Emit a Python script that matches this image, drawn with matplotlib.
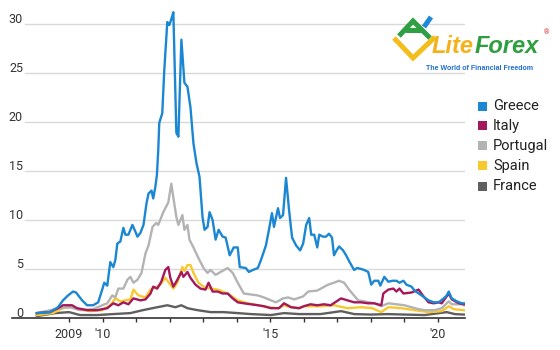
import matplotlib.pyplot as plt
from matplotlib.patches import Rectangle
from matplotlib.lines import Line2D

plt.rcParams["font.family"] = ["Roboto", "DejaVu Sans"]

# 10-year government bond spreads over German Bunds, percentage points
greece_t = [2008.04, 2008.43, 2008.67, 2008.82, 2008.97, 2009.12, 2009.21, 2009.39, 2009.54, 2009.72,
            2009.87, 2009.99, 2010.05, 2010.14, 2010.23, 2010.32, 2010.38, 2010.44, 2010.53, 2010.62,
            2010.68, 2010.77, 2010.89, 2010.98, 2011.04, 2011.13, 2011.22, 2011.31, 2011.37, 2011.46,
            2011.51, 2011.57, 2011.62, 2011.66, 2011.69, 2011.78, 2011.84, 2011.93, 2011.99, 2012.05,
            2012.11, 2012.20, 2012.26, 2012.35, 2012.44, 2012.53, 2012.62, 2012.71, 2012.80, 2012.89,
            2012.98, 2013.04, 2013.13, 2013.19, 2013.28, 2013.37, 2013.46, 2013.58, 2013.67, 2013.79,
            2013.91, 2014.03, 2014.09, 2014.27, 2014.36, 2014.48, 2014.63, 2014.72, 2014.87, 2014.96,
            2015.05, 2015.11, 2015.23, 2015.29, 2015.38, 2015.47, 2015.56, 2015.65, 2015.77, 2015.89,
            2015.98, 2016.07, 2016.16, 2016.22, 2016.31, 2016.40, 2016.46, 2016.57, 2016.66, 2016.75,
            2016.84, 2016.90, 2016.96, 2017.05, 2017.17, 2017.26, 2017.35, 2017.50, 2017.59, 2017.71,
            2017.80, 2017.92, 2018.01, 2018.10, 2018.22, 2018.28, 2018.40, 2018.52, 2018.64, 2018.76,
            2018.85, 2018.97, 2019.06, 2019.21, 2019.30, 2019.51, 2019.72, 2019.87, 2020.02, 2020.17,
            2020.26, 2020.32, 2020.41, 2020.56, 2020.71, 2020.77]
greece_v = [0.5, 0.6, 1.1, 1.8, 2.3, 2.7, 2.6, 1.8, 1.3, 1.3,
            1.6, 2.9, 3.6, 3.3, 5.7, 5.2, 5.9, 7.6, 7.8, 9.2,
            8.5, 8.5, 9.5, 8.8, 8.3, 8.7, 9.5, 11.7, 12.7, 13.0,
            12.2, 13.3, 14.6, 17.1, 19.9, 20.9, 25.3, 30.2, 29.9, 30.5,
            31.2, 18.9, 18.5, 28.4, 24.0, 23.6, 21.5, 17.8, 15.8, 14.4,
            10.3, 9.0, 9.3, 10.8, 10.0, 8.0, 9.0, 8.3, 8.2, 6.4,
            7.2, 7.2, 5.2, 5.1, 4.7, 4.9, 5.1, 5.9, 7.4, 9.0,
            10.7, 9.3, 11.2, 10.2, 10.5, 14.3, 11.0, 8.2, 7.4, 6.9,
            7.6, 9.5, 10.2, 8.5, 8.5, 7.2, 8.5, 8.3, 8.3, 8.6,
            8.2, 6.4, 6.8, 7.3, 6.9, 6.4, 5.8, 4.9, 5.1, 5.0,
            4.9, 4.7, 3.4, 3.8, 3.8, 3.3, 4.2, 3.7, 3.8, 3.8,
            3.6, 3.8, 3.4, 3.2, 2.8, 2.3, 1.8, 1.6, 1.6, 2.0,
            2.3, 2.7, 2.0, 1.7, 1.5, 1.5]

italy_t = [2008.04, 2008.43, 2008.67, 2008.82, 2009.09, 2009.24, 2009.54, 2009.84, 2010.14, 2010.32,
           2010.47, 2010.62, 2010.77, 2010.92, 2011.13, 2011.28, 2011.43, 2011.51, 2011.63, 2011.75,
           2011.87, 2011.96, 2012.02, 2012.11, 2012.23, 2012.35, 2012.41, 2012.53, 2012.62, 2012.77,
           2012.92, 2013.07, 2013.16, 2013.28, 2013.43, 2013.58, 2013.73, 2013.88, 2014.03, 2014.21,
           2014.42, 2014.63, 2014.81, 2015.02, 2015.26, 2015.41, 2015.62, 2015.86, 2016.00, 2016.20,
           2016.40, 2016.60, 2016.80, 2017.11, 2017.30, 2017.50, 2017.70, 2017.92, 2018.10, 2018.31,
           2018.37, 2018.52, 2018.67, 2018.76, 2018.85, 2018.97, 2019.21, 2019.42, 2019.57, 2019.72,
           2019.87, 2020.02, 2020.11, 2020.32, 2020.41, 2020.62, 2020.77]
italy_v = [0.5, 0.6, 1.0, 1.3, 1.3, 1.0, 0.8, 0.8, 1.0, 1.5,
           1.3, 1.6, 1.4, 2.0, 1.8, 1.9, 2.5, 3.2, 3.0, 3.7,
           4.9, 5.2, 4.1, 3.2, 3.9, 4.7, 4.2, 4.7, 4.1, 3.4,
           3.0, 2.9, 3.6, 2.7, 2.7, 2.5, 2.5, 2.0, 1.6, 1.5,
           1.4, 1.3, 1.2, 1.0, 1.0, 1.5, 1.1, 1.0, 1.2, 1.4,
           1.3, 1.4, 1.3, 2.0, 1.8, 1.6, 1.6, 1.5, 1.5, 1.3,
           2.5, 2.9, 3.0, 2.7, 3.0, 2.5, 2.6, 2.9, 2.2, 1.6,
           1.5, 1.6, 1.5, 2.5, 1.9, 1.5, 1.4]

portugal_t = [2008.04, 2008.73, 2009.03, 2009.33, 2009.72, 2009.99, 2010.14, 2010.29, 2010.38, 2010.47,
              2010.62, 2010.74, 2010.83, 2010.92, 2011.04, 2011.16, 2011.28, 2011.37, 2011.49, 2011.60,
              2011.66, 2011.81, 2011.87, 2011.96, 2012.05, 2012.11, 2012.20, 2012.26, 2012.38, 2012.44,
              2012.53, 2012.59, 2012.71, 2012.86, 2013.01, 2013.13, 2013.22, 2013.37, 2013.52, 2013.73,
              2013.88, 2014.03, 2014.21, 2014.42, 2014.63, 2014.81, 2015.02, 2015.17, 2015.38, 2015.53,
              2015.71, 2015.98, 2016.13, 2016.40, 2016.51, 2016.72, 2016.90, 2017.05, 2017.20, 2017.35,
              2017.47, 2017.62, 2017.80, 2018.10, 2018.31, 2018.52, 2018.76, 2019.00, 2019.21, 2019.42,
              2019.60, 2019.90, 2020.11, 2020.32, 2020.41, 2020.71, 2020.77]
portugal_v = [0.5, 1.0, 1.1, 0.8, 0.9, 1.3, 1.5, 2.3, 2.1, 3.0,
              3.0, 3.9, 4.2, 3.6, 3.9, 4.6, 6.6, 7.4, 9.3, 9.7,
              9.5, 10.8, 11.2, 11.8, 13.7, 12.3, 10.3, 9.5, 10.5, 9.0,
              9.5, 8.0, 7.2, 6.1, 5.1, 4.6, 4.9, 4.4, 4.7, 5.1,
              4.6, 3.6, 2.5, 2.4, 2.3, 2.1, 1.8, 1.6, 2.0, 2.1,
              1.9, 2.2, 2.7, 2.8, 3.0, 3.4, 3.6, 3.8, 3.6, 2.9,
              2.4, 1.8, 1.7, 1.5, 1.2, 1.5, 1.4, 1.3, 1.1, 0.9,
              0.8, 0.8, 1.0, 1.7, 1.4, 1.4, 1.3]

spain_t = [2008.04, 2008.52, 2008.82, 2009.03, 2009.24, 2009.63, 2009.99, 2010.23, 2010.38, 2010.53,
           2010.68, 2010.83, 2010.92, 2011.07, 2011.28, 2011.43, 2011.57, 2011.72, 2011.87, 2012.02,
           2012.11, 2012.23, 2012.38, 2012.44, 2012.53, 2012.62, 2012.71, 2012.86, 2013.01, 2013.22,
           2013.43, 2013.73, 2014.03, 2014.33, 2014.63, 2014.93, 2015.23, 2015.41, 2015.62, 2015.86,
           2016.00, 2016.30, 2016.51, 2016.90, 2017.30, 2017.71, 2018.04, 2018.31, 2018.52, 2018.91,
           2019.30, 2019.72, 2020.11, 2020.32, 2020.47, 2020.77]
spain_v = [0.3, 0.5, 1.0, 1.1, 0.9, 0.7, 0.8, 1.3, 2.0, 1.7,
           1.8, 1.9, 2.9, 2.3, 2.1, 2.9, 3.1, 3.4, 4.1, 3.4,
           3.0, 3.6, 5.2, 4.8, 5.4, 5.4, 4.6, 3.6, 3.2, 3.0,
           2.9, 2.5, 1.8, 1.5, 1.3, 1.1, 1.0, 1.3, 1.1, 1.0,
           1.2, 1.2, 1.2, 1.3, 1.0, 1.1, 1.0, 0.6, 1.1, 1.0,
           0.8, 0.6, 0.7, 1.2, 0.9, 0.8]

france_t = [2008.04, 2008.60, 2009.00, 2009.33, 2009.84, 2010.32, 2010.83, 2011.20, 2011.63, 2011.93,
            2012.17, 2012.35, 2012.53, 2012.83, 2013.22, 2013.60, 2014.03, 2014.42, 2015.02, 2015.41,
            2015.86, 2016.50, 2017.11, 2017.50, 2018.00, 2018.50, 2019.00, 2019.60, 2020.26, 2020.50,
            2020.77]
france_v = [0.2, 0.5, 0.6, 0.3, 0.3, 0.4, 0.5, 0.8, 1.1, 1.3,
            1.1, 1.3, 1.0, 0.8, 0.6, 0.6, 0.5, 0.4, 0.3, 0.5,
            0.4, 0.4, 0.7, 0.4, 0.35, 0.4, 0.35, 0.3, 0.6, 0.4,
            0.35]

countries = ["Greece", "Italy", "Portugal", "Spain", "France"]
colors = {
    "Greece": "#1b87d2",
    "Italy": "#a3195b",
    "Portugal": "#b3b3b3",
    "Spain": "#f8c92e",
    "France": "#5f5f5f",
}
series = {
    "Greece": (greece_t, greece_v),
    "Italy": (italy_t, italy_v),
    "Portugal": (portugal_t, portugal_v),
    "Spain": (spain_t, spain_v),
    "France": (france_t, france_v),
}

y_ticks = [0, 5, 10, 15, 20, 25, 30]
x_ticks = list(range(2009, 2021))
x_labels = {2009: "2009", 2010: "'10", 2015: "'15", 2020: "'20"}

W, H = 560, 350
fig = plt.figure(figsize=(W / 100, H / 100), dpi=100)
ax = fig.add_axes([12 / W, 32 / H, 453 / W, 313.6 / H])
ax.set_xlim(2007.30, 2020.805)
ax.set_ylim(0, 32)

# gridlines start right of the labels
for y in y_ticks[1:]:
    ax.axhline(y, xmin=13 / 453, xmax=1, color="#d9d9d9", lw=1, zorder=0)
for y in y_ticks:
    ax.annotate(str(y), xy=(11 / 453, y), xycoords=("axes fraction", "data"),
                xytext=(0, 1), textcoords="offset points",
                ha="right", va="baseline", fontsize=9, color="#333333")

# draw back to front so Greece sits on top
for name in reversed(countries):
    t, v = series[name]
    ax.plot(t, v, color=colors[name], lw=1.7, solid_joinstyle="round", zorder=3)

for side in ["top", "right", "left"]:
    ax.spines[side].set_visible(False)
ax.spines["bottom"].set_color("#333333")
ax.spines["bottom"].set_linewidth(1.2)
ax.set_yticks([])
ax.set_xticks(x_ticks)
ax.set_xticklabels([x_labels.get(x, "") for x in x_ticks])
ax.tick_params(axis="x", length=3, width=1, color="#333333", pad=4,
               labelsize=9, labelcolor="#333333")

# legend with square swatches
for i, name in enumerate(countries):
    yc = 106 + 20 * i
    fig.add_artist(Rectangle((478 / W, 1 - (yc + 4.5) / H), 9 / W, 9 / H,
                             transform=fig.transFigure, color=colors[name], lw=0))
    fig.text(493 / W, 1 - yc / H, name, fontsize=10.5, color="#222222",
             ha="left", va="center")

# watermark logo
def px(x, y):
    return x / W, 1 - y / H

for pts, col in [
    ([(394, 38), (413, 58), (435, 37)], "#f3bd1b"),
    ([(399, 36), (413, 21), (430, 38)], "#2ea043"),
    ([(405, 30), (421, 30)], "#2ea043"),
    ([(424, 27), (431, 17)], "#1f8ad8"),
]:
    xs, ys = zip(*[px(a, b) for a, b in pts])
    fig.add_artist(Line2D(xs, ys, transform=fig.transFigure, color=col, lw=3.6,
                          solid_capstyle="butt", solid_joinstyle="miter"))

fig.text(*px(474, 53), "Lite", fontsize=17, family="Liberation Sans", weight="bold",
         style="italic", color="#f3b21b", ha="right", va="baseline")
fig.text(*px(475, 53), "Forex", fontsize=17, family="Liberation Sans", weight="bold",
         style="italic", color="#2e9e3e", ha="left", va="baseline")
fig.text(*px(547, 33), "®", fontsize=5, color="#d9302c", ha="center", va="center")
fig.text(*px(480, 69), "The World of Financial Freedom", fontsize=5,
         family="Liberation Sans", weight="bold", color="#1f6fd0", ha="center", va="center")

fig.savefig("out.png", dpi=100)
